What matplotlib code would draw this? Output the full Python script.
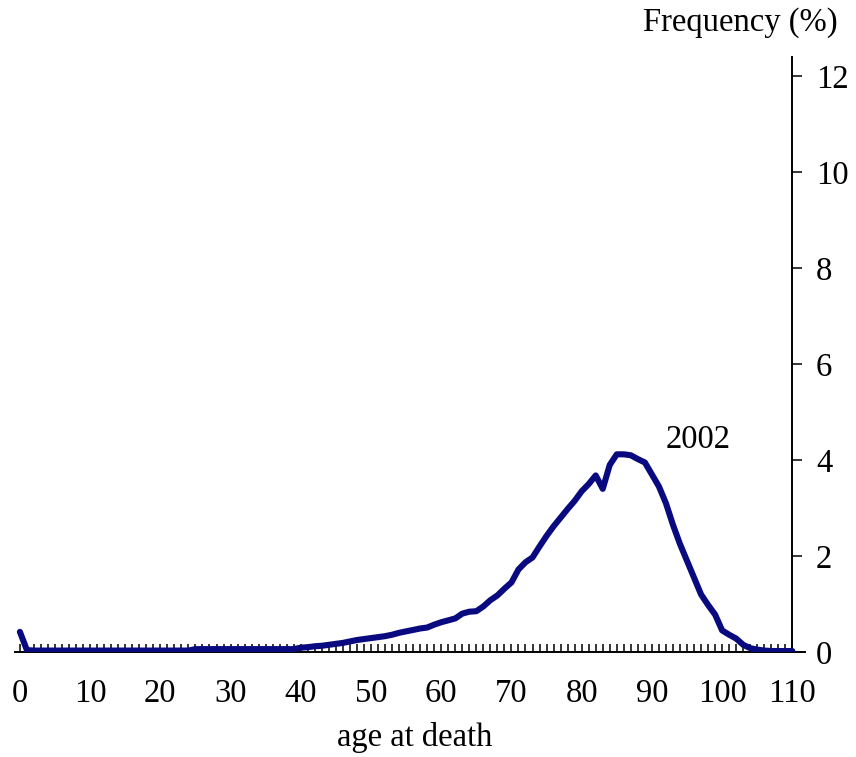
import numpy as np
import matplotlib.pyplot as plt

# age at death (years) and share of deaths (%), 2002
ages = np.arange(0, 111)
freq = [0.42, 0.04] + [0.03] * 23 + [0.06] * 15 + [
    0.09, 0.10, 0.12, 0.13, 0.15, 0.17, 0.19, 0.22, 0.25, 0.27,   # 40-49
    0.29, 0.31, 0.33, 0.36, 0.40, 0.43, 0.46, 0.49, 0.51, 0.57,   # 50-59
    0.62, 0.66, 0.70, 0.80, 0.84, 0.85, 0.95, 1.08, 1.18, 1.32,   # 60-69
    1.45, 1.72, 1.87, 1.97, 2.20, 2.42, 2.62, 2.80, 2.98, 3.15,   # 70-79
    3.35, 3.50, 3.68, 3.40, 3.90, 4.12, 4.12, 4.10, 4.02, 3.95,   # 80-89
    3.70, 3.45, 3.10, 2.65, 2.25, 1.90, 1.55, 1.20, 0.98, 0.78,   # 90-99
    0.45, 0.36, 0.28, 0.15, 0.08, 0.05, 0.03, 0.02, 0.02, 0.02,   # 100-109
    0.02]
year_label = "2002"

plt.rcParams['font.family'] = ['Liberation Serif', 'DejaVu Serif']
fs = 23.5

fig = plt.figure(figsize=(8.56, 7.57), dpi=100)
ax = fig.add_axes([0.0175, 0.1387, 0.9229, 0.786])

ax.plot(ages, freq, color='#0a0a80', lw=4.4, solid_joinstyle='round',
        solid_capstyle='round', zorder=3)

ax.set_xlim(-0.7, 111.8)
ax.set_ylim(0, 12.4)

for s in ['top', 'left']:
    ax.spines[s].set_visible(False)
ax.spines['right'].set_position(('data', 110))
ax.spines['right'].set_linewidth(1.4)
ax.spines['bottom'].set_linewidth(1.4)

ax.set_xticks(np.arange(0, 111, 10))
ax.set_xticks(np.arange(0, 111, 1), minor=True)
ax.tick_params(axis='x', which='both', direction='in', length=6, width=1.1,
               labelsize=fs, pad=19)

ax.yaxis.tick_right()
ax.set_yticks(np.arange(0, 13, 2))
ax.tick_params(axis='y', direction='out', length=7, width=1.1,
               labelsize=fs, pad=10)

ax.text(96.6, 4.42, year_label, fontsize=fs, ha='center', va='center')
fig.text(0.485, 0.026, "age at death", fontsize=fs, ha='center', va='center')
fig.text(0.979, 0.970, "Frequency (%)", fontsize=fs, ha='right', va='center')

fig.savefig('out.png', dpi=100)
